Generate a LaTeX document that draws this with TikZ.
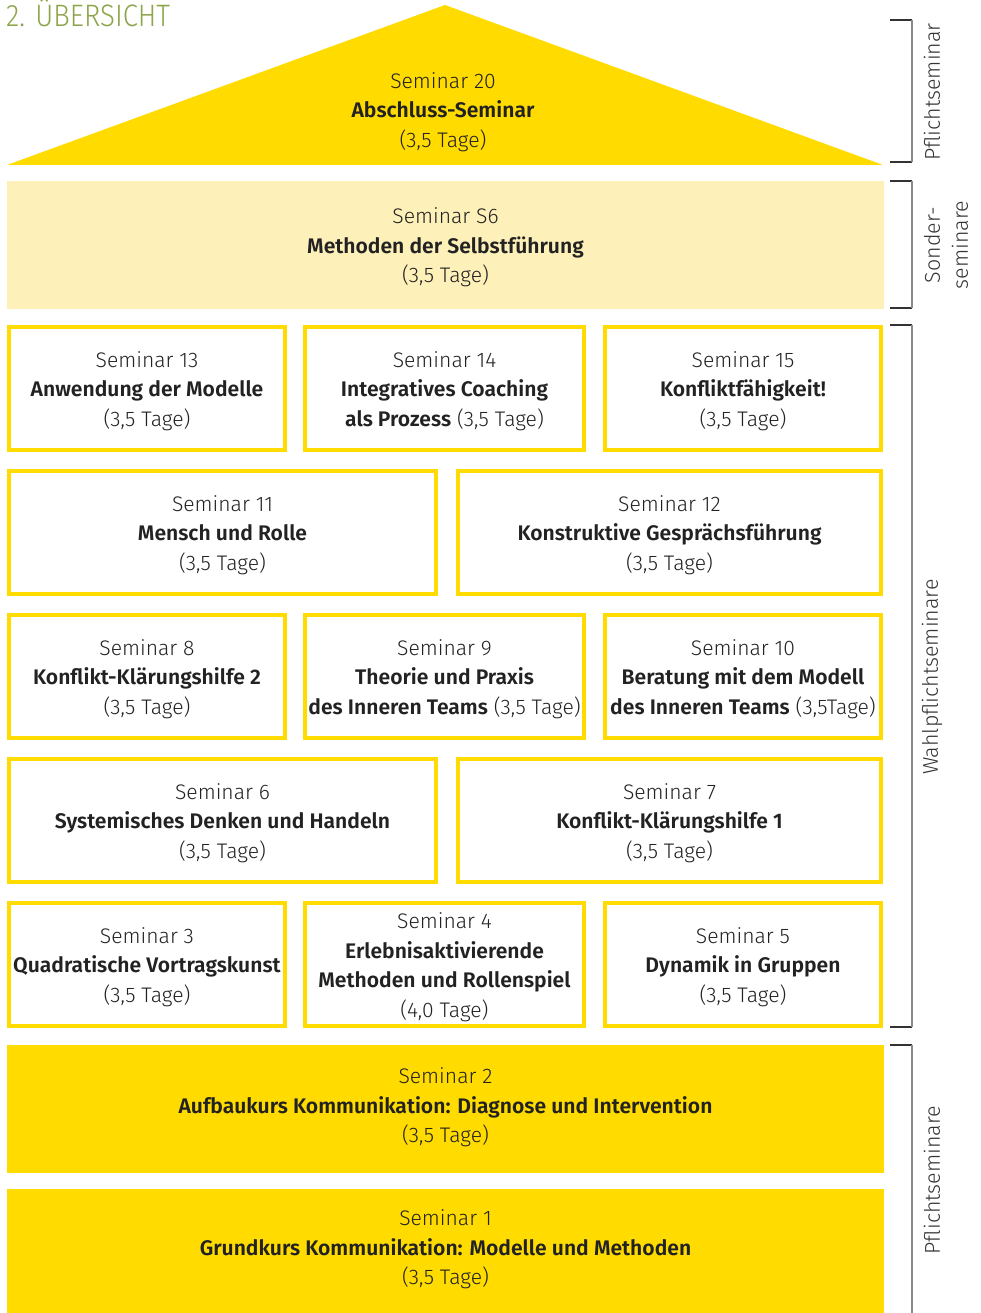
\documentclass[tikz,border=0pt]{standalone}
\usepackage{fontspec}
\setmainfont{Fira Sans Light}[BoldFont={Fira Sans SemiBold}]
\newfontfamily\titlefont{Fira Sans Light}[FakeStretch=0.89]
\usetikzlibrary{positioning}
\definecolor{yel}{HTML}{FFDB00}
\definecolor{lyel}{HTML}{FEF0B9}
\definecolor{txt}{HTML}{222222}
\definecolor{ttl}{HTML}{8CA54A}
\definecolor{brk}{HTML}{333333}
\definecolor{brkv}{HTML}{8A8A8A}
\tikzset{
  x=1pt,y=1pt,
  lbl/.style={font=\fontsize{21.1}{29.5}\selectfont, text=txt, align=center, inner sep=0pt},
  obox/.style={draw=yel, line width=4pt, minimum width=276pt, minimum height=123pt, lbl},
  wbox/.style={draw=yel, line width=4pt, minimum width=427pt, minimum height=123pt, lbl},
  fbox/.style={fill=yel, minimum width=877pt, minimum height=128pt, lbl},
  side/.style={font=\fontsize{21.4}{28}\selectfont, text=brk, rotate=90, align=center, inner sep=0pt},
  brh/.style={draw=brk, line width=1.2pt},
  brv/.style={draw=brkv, line width=1.5pt},
}
\begin{document}
\begin{tikzpicture}
\useasboundingbox (0,0) rectangle (980,-1313);
% title
\node[anchor=base west, inner sep=0pt, text=ttl, font=\titlefont\fontsize{31}{31}\selectfont] (title) at (6,-27) {2. ÜBERSICHT};
% roof
\fill[yel] (7,-165) -- (445,-5) -- (883,-165) -- cycle;
\node[lbl] (s20) at (443,-112) {Seminar 20\\\textbf{Abschluss-Seminar}\\(3,5 Tage)};
% Sonderseminar
\node[lbl, fill=lyel, minimum width=877pt, minimum height=128pt] (s6) at (445.5,-245) {};
\node[lbl] (s6t) at (445.5,-247.5) {Seminar S6\\\textbf{Methoden der Selbstführung}\\(3,5 Tage)};
% row 1
\node[obox] (s13) at (147,-388.5) {};
\node[obox, minimum width=279pt] (s14) at (444.5,-388.5) {};
\node[obox] (s15) at (743,-388.5) {};
\node[lbl] (t13) at (147,-391) {Seminar 13\\\textbf{Anwendung der Modelle}\\(3,5 Tage)};
\node[lbl] (t14) at (444.5,-391) {Seminar 14\\\textbf{Integratives Coaching}\\\textbf{als Prozess} (3,5 Tage)};
\node[lbl] (t15) at (743,-391) {Seminar 15\\\textbf{Konfliktfähigkeit!}\\(3,5 Tage)};
% row 2
\node[wbox] (s11) at (222.5,-532.5) {};
\node[wbox, minimum width=423pt] (s12) at (669.5,-532.5) {};
\node[lbl] (t11) at (222.5,-535) {Seminar 11\\\textbf{Mensch und Rolle}\\(3,5 Tage)};
\node[lbl] (t12) at (669.5,-535) {Seminar 12\\\textbf{Konstruktive Gesprächsführung}\\(3,5 Tage)};
% row 3
\node[obox] (s8) at (147,-676.5) {};
\node[obox, minimum width=279pt] (s9) at (444.5,-676.5) {};
\node[obox] (s10) at (743,-676.5) {};
\node[lbl] (t8) at (147,-679) {Seminar 8\\\textbf{Konflikt-Klärungshilfe 2}\\(3,5 Tage)};
\node[lbl] (t9) at (444.5,-679) {Seminar 9\\\textbf{Theorie und Praxis}\\\textbf{des Inneren Teams} (3,5 Tage)};
\node[lbl] (t10) at (743,-679) {Seminar 10\\\textbf{Beratung mit dem Modell}\\\textbf{des Inneren Teams} (3,5Tage)};
% row 4
\node[wbox] (s6b) at (222.5,-820.5) {};
\node[wbox, minimum width=423pt] (s7) at (669.5,-820.5) {};
\node[lbl] (t6) at (222.5,-823) {Seminar 6\\\textbf{Systemisches Denken und Handeln}\\(3,5 Tage)};
\node[lbl] (t7) at (669.5,-823) {Seminar 7\\\textbf{Konflikt-Klärungshilfe 1}\\(3,5 Tage)};
% row 5
\node[obox] (s3) at (147,-964.5) {};
\node[obox, minimum width=279pt] (s4) at (444.5,-964.5) {};
\node[obox] (s5) at (743,-964.5) {};
\node[lbl] (t3) at (147,-967) {Seminar 3\\\textbf{Quadratische Vortragskunst}\\(3,5 Tage)};
\node[lbl] (t4) at (444.5,-967) {Seminar 4\\\textbf{Erlebnisaktivierende}\\\textbf{Methoden und Rollenspiel}\\(4,0 Tage)};
\node[lbl] (t5) at (743,-967) {Seminar 5\\\textbf{Dynamik in Gruppen}\\(3,5 Tage)};
% basis
\node[fbox] (s2) at (445.5,-1109) {};
\node[fbox, minimum height=124pt] (s1) at (445.5,-1251) {};
\node[lbl] (t2) at (445.5,-1107.5) {Seminar 2\\\textbf{Aufbaukurs Kommunikation: Diagnose und Intervention}\\(3,5 Tage)};
\node[lbl] (t1) at (445.5,-1249.5) {Seminar 1\\\textbf{Grundkurs Kommunikation: Modelle und Methoden}\\(3,5 Tage)};
% brackets
\coordinate (b1a) at (890,-20); \coordinate (b1b) at (912,-20);
\coordinate (b1c) at (912,-162); \coordinate (b1d) at (890,-162);
\draw[brh] (b1a) -- (b1b); \draw[brh] (b1d) -- (b1c); \draw[brv] (b1b) -- (b1c);
\coordinate (b2a) at (890,-181); \coordinate (b2b) at (912,-181);
\coordinate (b2c) at (912,-308); \coordinate (b2d) at (890,-308);
\draw[brh] (b2a) -- (b2b); \draw[brh] (b2d) -- (b2c); \draw[brv] (b2b) -- (b2c);
\coordinate (b3a) at (890,-325); \coordinate (b3b) at (912,-325);
\coordinate (b3c) at (912,-1027); \coordinate (b3d) at (890,-1027);
\draw[brh] (b3a) -- (b3b); \draw[brh] (b3d) -- (b3c); \draw[brv] (b3b) -- (b3c);
\coordinate (b4a) at (890,-1045); \coordinate (b4b) at (912,-1045);
\coordinate (b4c) at (912,-1313);
\draw[brh] (b4a) -- (b4b); \draw[brv] (b4b) -- (b4c);
% side labels
\node[side] (l1) at (932,-92) {Pflichtseminar};
\node[side] (l2) at (946,-245) {Sonder-\\seminare};
\node[side] (l3) at (932,-677) {Wahlpflichtseminare};
\node[side] (l4) at (932,-1180) {Pflichtseminare};
\end{tikzpicture}
\end{document}
